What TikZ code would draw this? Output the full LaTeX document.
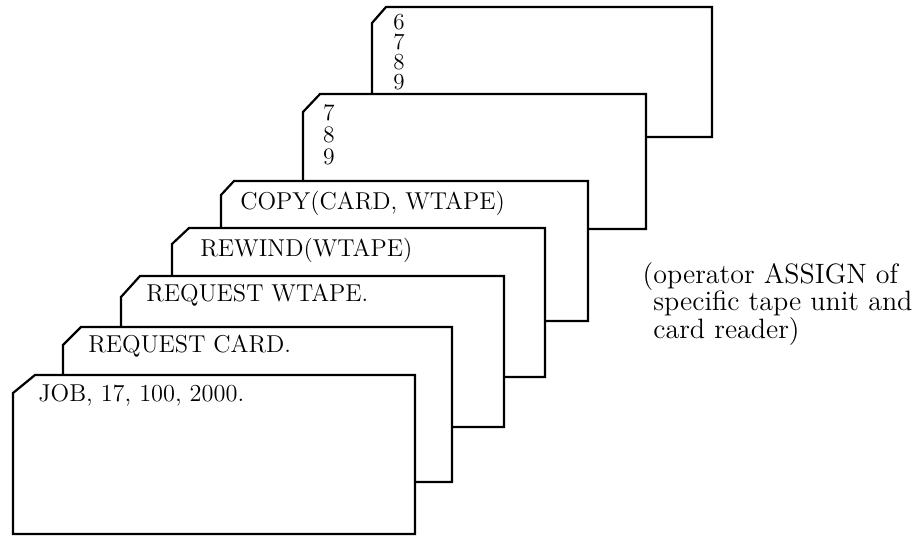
\documentclass[tikz,border=0pt]{standalone}
\usetikzlibrary{positioning}

\begin{document}
\begin{tikzpicture}[
  x=0.5pt, y=-0.5pt,
  card/.style={draw=black, fill=white, line width=1.1pt, line join=miter},
  cardtext/.style={anchor=west, inner sep=0pt, font=\fontsize{12.2}{14}\selectfont},
  digits/.style={inner sep=0pt, align=center},
]
\useasboundingbox (0,0) rectangle (913,536);

% Cards, back to front
\draw[card] (386,7) -- (712,7) -- (712,137) -- (372,137) -- (372,23) -- cycle;
\draw[card] (320,94) -- (646,94) -- (646,229) -- (303,229) -- (303,112) -- cycle;
\draw[card] (234,181) -- (588,181) -- (588,321) -- (221,321) -- (221,195) -- cycle;
\draw[card] (189,228) -- (545,228) -- (545,377) -- (172,377) -- (172,244) -- cycle;
\draw[card] (140,276) -- (504,276) -- (504,427) -- (121,427) -- (121,297) -- cycle;
\draw[card] (81,327) -- (452,327) -- (452,482) -- (63,482) -- (63,345) -- cycle;
\draw[card] (35,375) -- (415,375) -- (415,534) -- (13,534) -- (13,393) -- cycle;

% Card texts
\node[digits, font=\fontsize{11.5}{10}\selectfont] (deckA) at (399,52) {6\\7\\8\\9};
\node[digits, font=\fontsize{11.8}{11}\selectfont] (deckB) at (329,135) {7\\8\\9};
\node[cardtext] (copy) at (240,203) {COPY(CARD, WTAPE)};
\node[cardtext] (rewind) at (200,250) {REWIND(WTAPE)};
\node[cardtext] (reqtape) at (146,295) {REQUEST WTAPE.};
\node[cardtext] (reqcard) at (88,346) {REQUEST CARD.};
\node[cardtext] (job) at (38,395) {JOB, 17, 100, 2000.};

% Operator note
\node[anchor=base west, inner sep=0pt, align=left, font=\fontsize{14}{13.6}\selectfont]
  (assign) at (653,338) {\llap{(}operator ASSIGN of\\specific tape unit and\\card reader)};

\end{tikzpicture}
\end{document}
